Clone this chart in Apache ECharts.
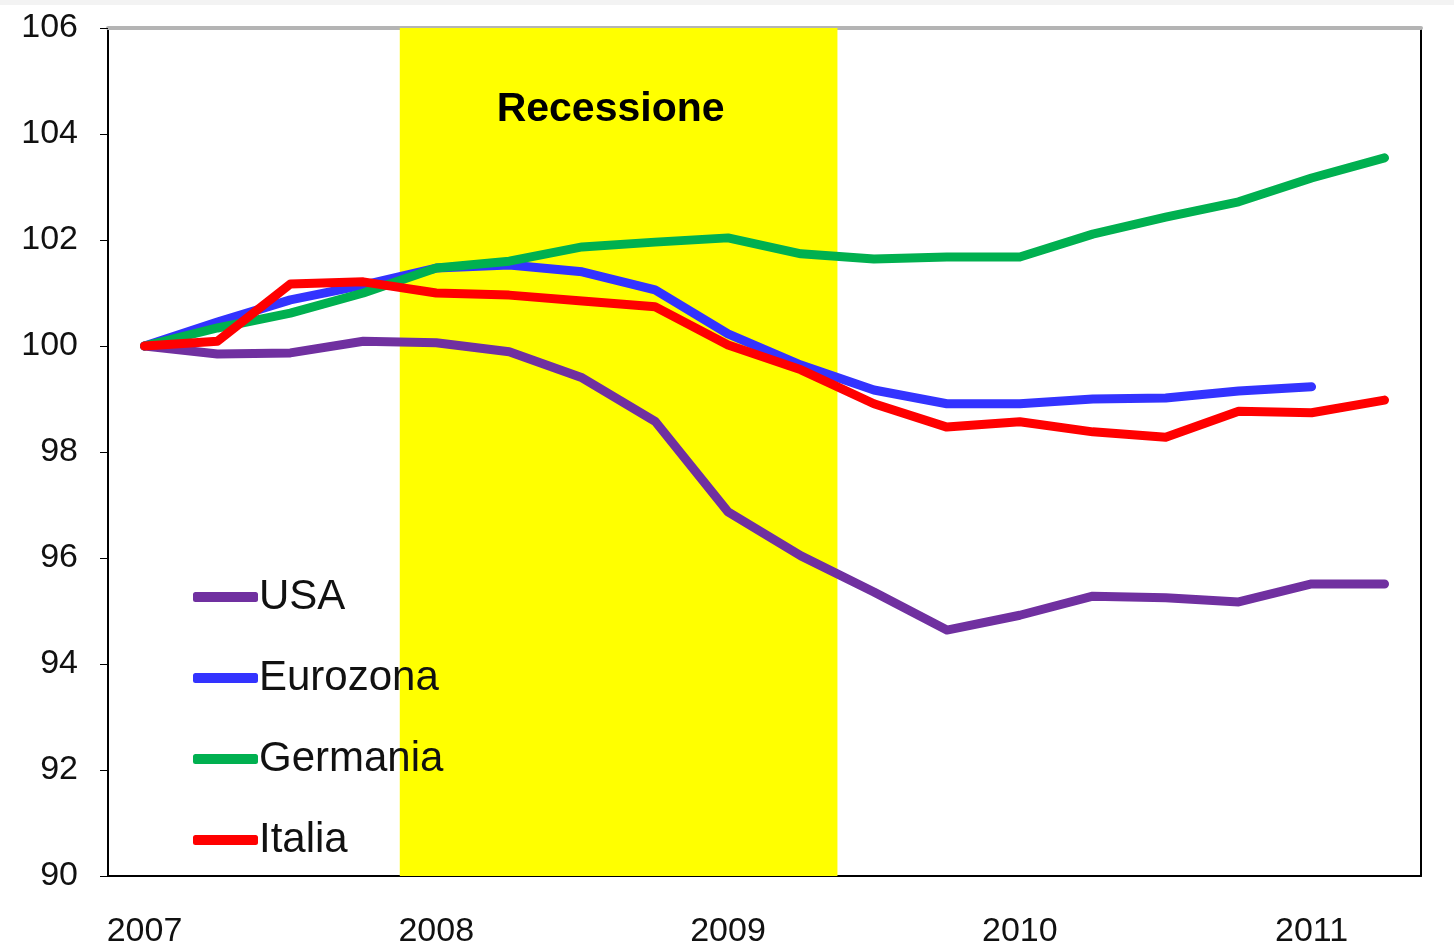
<!DOCTYPE html>
<html lang="it">
<head>
<meta charset="UTF-8">
<title>PIL 2007-2011</title>
<style type="text/css">
    body, html {
        width: 100%;
        height: 100%;
        margin: 0;
        padding: 0;
        background: #fff;
    }
    #chart {
        width: 1454px;
        height: 949px;
    }
</style>
</head>
<body>
<div id="chart"></div>
<script src="https://cdn.jsdelivr.net/npm/echarts@6/dist/echarts.min.js"></script>
<script type="text/javascript">
// trimestri 2007 T1 .. 2011 T2
var quarters = [
    '2007 T1', '2007 T2', '2007 T3', '2007 T4',
    '2008 T1', '2008 T2', '2008 T3', '2008 T4',
    '2009 T1', '2009 T2', '2009 T3', '2009 T4',
    '2010 T1', '2010 T2', '2010 T3', '2010 T4',
    '2011 T1', '2011 T2'
];

var usa      = [100, 99.85, 99.87, 100.09, 100.06, 99.89, 99.40, 98.58, 96.87, 96.04, 95.36, 94.64, 94.92, 95.28, 95.25, 95.17, 95.51, 95.51];
var eurozona = [100, 100.45, 100.87, 101.15, 101.47, 101.53, 101.40, 101.06, 100.23, 99.64, 99.17, 98.91, 98.91, 99.00, 99.02, 99.15, 99.23, null];
var germania = [100, 100.34, 100.62, 101.00, 101.47, 101.60, 101.87, 101.96, 102.04, 101.74, 101.64, 101.68, 101.68, 102.11, 102.43, 102.72, 103.17, 103.55];
var italia   = [100, 100.09, 101.17, 101.21, 101.00, 100.96, 100.85, 100.74, 100.02, 99.55, 98.91, 98.47, 98.57, 98.38, 98.28, 98.77, 98.74, 98.98];

// recessione: dal 2008 T1 a fine 2009 T2 (indici di trimestre)
var recessionStart = 4;
var recessionEnd = 10;

var chart = echarts.init(document.getElementById('chart'));
var font = 'Liberation Sans';

function line(name, data, color) {
    return {
        name: name,
        type: 'line',
        data: data,
        symbol: 'none',
        z: 3,
        lineStyle: { color: color, width: 9, cap: 'round', join: 'round' },
        itemStyle: { color: color }
    };
}

var option = {
    animation: false,
    textStyle: { fontFamily: font },
    graphic: [{
        type: 'rect',
        left: 0,
        top: 0,
        shape: { width: 1454, height: 5 },
        style: { fill: '#f3f3f3' }
    }],
    grid: { left: 108, right: 33, top: 28, bottom: 72, containLabel: false },
    legend: {
        orient: 'vertical',
        left: 188,
        top: 571,
        itemWidth: 65,
        itemHeight: 10,
        itemGap: 39,
        icon: 'roundRect',
        textStyle: { fontFamily: font, fontSize: 42, color: '#111', padding: [0, 0, 0, -4] },
        data: ['USA', 'Eurozona', 'Germania', 'Italia']
    },
    xAxis: [{
        type: 'category',
        data: quarters,
        boundaryGap: true,
        axisLine: { lineStyle: { color: '#000', width: 2 } },
        axisTick: { interval: 3, length: 11, lineStyle: { color: '#000', width: 1 } },
        axisLabel: {
            interval: 3,
            margin: 39,
            fontSize: 34,
            color: '#111',
            formatter: function (v) { return v.slice(0, 4); }
        },
        splitLine: { show: false }
    }, {
        type: 'value',
        position: 'top',
        min: 0,
        max: 18,
        axisLine: { show: true, lineStyle: { color: '#b4b4b4', width: 4 } },
        axisTick: { show: false },
        axisLabel: { show: false },
        splitLine: { show: false }
    }],
    yAxis: [{
        type: 'value',
        min: 90,
        max: 106,
        interval: 2,
        axisLine: { show: true, lineStyle: { color: '#000', width: 2 } },
        axisTick: { show: true, inside: false, length: 8, lineStyle: { color: '#000' } },
        axisLabel: { fontSize: 34, color: '#111', margin: 30 },
        splitLine: { show: false }
    }, {
        type: 'value',
        position: 'right',
        min: 90,
        max: 106,
        axisLine: { show: true, lineStyle: { color: '#000', width: 2 } },
        axisTick: { show: false },
        axisLabel: { show: false },
        splitLine: { show: false }
    }],
    series: [
        {
            name: 'recessione',
            type: 'line',
            xAxisIndex: 1,
            data: [],
            z: 1,
            markArea: {
                silent: true,
                itemStyle: { color: '#ffff00', opacity: 1 },
                label: {
                    show: true,
                    position: 'insideTop',
                    distance: 61,
                    offset: [-8, 0],
                    fontSize: 41,
                    fontWeight: 'bold',
                    color: '#000',
                    fontFamily: font
                },
                data: [[
                    { name: 'Recessione', xAxis: recessionStart },
                    { xAxis: recessionEnd }
                ]]
            }
        },
        line('USA', usa, '#7030a0'),
        line('Eurozona', eurozona, '#3333ff'),
        line('Germania', germania, '#00b050'),
        line('Italia', italia, '#ff0000')
    ]
};

chart.setOption(option);
</script>
</body>
</html>
